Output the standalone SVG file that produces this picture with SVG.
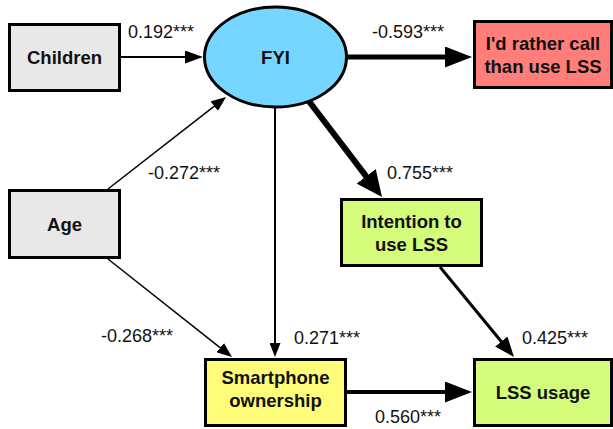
<svg xmlns="http://www.w3.org/2000/svg" width="613" height="429" viewBox="0 0 613 429">
<style>
.box{stroke:#000;stroke-width:3}
.lbl{font-family:"Liberation Sans",Arial,sans-serif;font-weight:bold;font-size:18.5px;text-anchor:middle;fill:#111}
.num{font-family:"Liberation Sans",Arial,sans-serif;font-size:18px;fill:#111}
.c{stroke:#000;fill:none}
</style>
<defs>
<marker id="hS" markerUnits="userSpaceOnUse" markerWidth="15" markerHeight="12" refX="1" refY="6" orient="auto"><path d="M0,0 L15,6 L0,12 z" fill="#000"/></marker>
<marker id="hM" markerUnits="userSpaceOnUse" markerWidth="18" markerHeight="13" refX="1" refY="6.5" orient="auto"><path d="M0,0 L18,6.5 L0,13 z" fill="#000"/></marker>
<marker id="hV" markerUnits="userSpaceOnUse" markerWidth="14" markerHeight="11" refX="1" refY="5.5" orient="auto"><path d="M0,0 L14,5.5 L0,11 z" fill="#000"/></marker>
<marker id="hL" markerUnits="userSpaceOnUse" markerWidth="27" markerHeight="21" refX="1" refY="10.5" orient="auto"><path d="M0,0 L27,10.5 L0,21 z" fill="#000"/></marker>
<marker id="hX" markerUnits="userSpaceOnUse" markerWidth="26" markerHeight="24" refX="1" refY="12" orient="auto"><path d="M0,0 L26,12 L0,24 z" fill="#000"/></marker>
<marker id="hI" markerUnits="userSpaceOnUse" markerWidth="20" markerHeight="16" refX="1" refY="8" orient="auto"><path d="M0,0 L20,8 L0,16 z" fill="#000"/></marker>
</defs>
<g id="connectors">
<line class="c" x1="121" y1="57" x2="186" y2="57" stroke-width="2" marker-end="url(#hM)"/>
<line class="c" x1="347" y1="57" x2="446" y2="57" stroke-width="5" marker-end="url(#hL)"/>
<line class="c" x1="108" y1="189" x2="215" y2="105.6" stroke-width="1.5" marker-end="url(#hS)"/>
<line class="c" x1="108" y1="259" x2="221" y2="348.3" stroke-width="1.5" marker-end="url(#hS)"/>
<line class="c" x1="275" y1="107" x2="275" y2="344" stroke-width="2" marker-end="url(#hV)"/>
<line class="c" x1="308" y1="100" x2="366.8" y2="177.1" stroke-width="6" marker-end="url(#hX)"/>
<line class="c" x1="440" y1="267" x2="501.9" y2="342.3" stroke-width="3" marker-end="url(#hI)"/>
<line class="c" x1="347" y1="392" x2="446" y2="392" stroke-width="4" marker-end="url(#hL)"/>
</g>
<g id="labels">
<text class="num" x="128" y="38">0.192***</text>
<text class="num" x="372" y="38">-0.593***</text>
<text class="num" x="148" y="179">-0.272***</text>
<text class="num" x="387" y="179">0.755***</text>
<text class="num" x="101" y="342">-0.268***</text>
<text class="num" x="294" y="344">0.271***</text>
<text class="num" x="522" y="344">0.425***</text>
<text class="num" x="375" y="423">0.560***</text>
</g>
<g id="children">
<rect class="box" x="9.5" y="24.5" width="110" height="66" fill="#E8E8E8"/>
<text class="lbl" x="64.5" y="63.5">Children</text>
</g>
<g id="age">
<rect class="box" x="9.5" y="190.5" width="110" height="67" fill="#E8E8E8"/>
<text class="lbl" x="64.5" y="230.5">Age</text>
</g>
<g id="fyi">
<ellipse class="box" cx="275.5" cy="57" rx="71" ry="50" fill="#76D6FF"/>
<text class="lbl" x="275.5" y="63.5">FYI</text>
</g>
<g id="rather-call">
<rect class="box" x="474.5" y="21.5" width="137" height="66" fill="#FF7E79"/>
<text class="lbl" x="543" y="49.5">I'd rather call</text>
<text class="lbl" x="543" y="72.5">than use LSS</text>
</g>
<g id="intention">
<rect class="box" x="341.5" y="199.5" width="140" height="66" fill="#D4FB79"/>
<text class="lbl" x="411.5" y="228">Intention to</text>
<text class="lbl" x="411.5" y="250.5">use LSS</text>
</g>
<g id="smartphone">
<rect class="box" x="205.5" y="359.5" width="140" height="66" fill="#FFFC79"/>
<text class="lbl" x="275.5" y="384">Smartphone</text>
<text class="lbl" x="275.5" y="407">ownership</text>
</g>
<g id="lss-usage">
<rect class="box" x="474.5" y="359.5" width="137" height="66" fill="#D4FB79"/>
<text class="lbl" x="543" y="398.5">LSS usage</text>
</g>
</svg>
